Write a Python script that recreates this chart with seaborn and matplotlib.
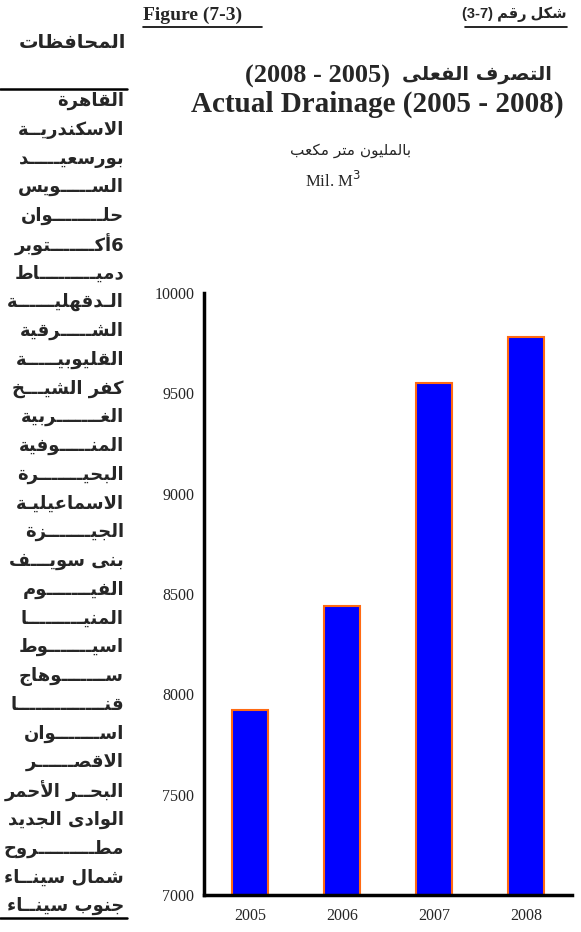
import numpy as np
import pandas as pd
import seaborn as sns
import matplotlib
matplotlib.use("Agg")
import matplotlib.pyplot as plt
from matplotlib.lines import Line2D

# data
years = ["2005", "2006", "2007", "2008"]
drainage = [7920, 8440, 9550, 9780]
y_ticks = [7000, 7500, 8000, 8500, 9000, 9500, 10000]

# governorates column on the left (with kashida as in the source)
governorates = [
    "القاهرة", "الاسكندريــة", "بورسعيـــــد", "الســـــويس", "حلــــــــوان",
    "أكـــــــتوبر|6", "دميـــــــــاط", "الـدقهليــــــة", "الشـــــرقية",
    "القليوبيـــــة", "كفر الشيـــخ", "الغـــــــربية", "المنـــــوفية",
    "البحيـــــــرة", "الاسماعيليـة", "الجيـــــــزة", "بنى سويـــف",
    "الفيـــــــوم", "المنيـــــــــا", "اسيـــــــوط", "ســـــــوهاج",
    "قنــــــــــــــا", "اســـــــوان", "الاقصــــــر", "البحــر الأحمر",
    "الوادى الجديد", "مطـــــــــروح", "شمال سينــاء", "جنوب سينــاء",
]

# --- minimal arabic shaping (matplotlib does no shaping / bidi) ---
DUAL = {
    "ئ": 0xFE89, "ب": 0xFE8F, "ت": 0xFE95, "ث": 0xFE99, "ج": 0xFE9D,
    "ح": 0xFEA1, "خ": 0xFEA5, "س": 0xFEB1, "ش": 0xFEB5, "ص": 0xFEB9,
    "ض": 0xFEBD, "ط": 0xFEC1, "ظ": 0xFEC5, "ع": 0xFEC9, "غ": 0xFECD,
    "ف": 0xFED1, "ق": 0xFED5, "ك": 0xFED9, "ل": 0xFEDD, "م": 0xFEE1,
    "ن": 0xFEE5, "ه": 0xFEE9, "ي": 0xFEF1,
}
RIGHT = {
    "آ": 0xFE81, "أ": 0xFE83, "ؤ": 0xFE85, "إ": 0xFE87, "ا": 0xFE8D,
    "ة": 0xFE93, "د": 0xFEA9, "ذ": 0xFEAB, "ر": 0xFEAD, "ز": 0xFEAF,
    "و": 0xFEED, "ى": 0xFEEF,
}
LAMALEF = {"آ": 0xFEF5, "أ": 0xFEF7, "إ": 0xFEF9, "ا": 0xFEFB}
TATWEEL = "ـ"


def joins_next(c):
    return c in DUAL or c == TATWEEL


def joins_prev(c):
    return c in DUAL or c in RIGHT or c == TATWEEL


def ar(s):
    out = []
    n = len(s)
    i = 0
    while i < n:
        c = s[i]
        prev = s[i - 1] if i > 0 else None
        cp = prev is not None and joins_next(prev) and joins_prev(c)
        if c == "ل" and i + 1 < n and s[i + 1] in LAMALEF:
            out.append(chr(LAMALEF[s[i + 1]] + (1 if cp else 0)))
            i += 2
            continue
        nxt = s[i + 1] if i + 1 < n else None
        cn = nxt is not None and joins_next(c) and joins_prev(nxt)
        if c in DUAL:
            b = DUAL[c]
            out.append(chr(b + (3 if cp and cn else 2 if cn else 1 if cp else 0)))
        elif c in RIGHT:
            out.append(chr(RIGHT[c] + (1 if cp else 0)))
        else:
            out.append(c)
        i += 1
    return "".join(reversed(out))


def gov_label(s):
    if "|" in s:
        word, num = s.split("|")
        return ar(word) + num
    return ar(s)


sns.set_style("white")
plt.rcParams["font.family"] = ["Liberation Serif", "DejaVu Sans"]

W, H = 581, 932
fig = plt.figure(figsize=(W / 100, H / 100), dpi=100)


def fx(px):
    return px / W


def fy(py):
    return 1 - py / H


ax = fig.add_axes([fx(204), fy(895), fx(572) - fx(204), fy(293) - fy(895)])

df = pd.DataFrame({"year": years, "value": drainage})
sns.barplot(data=df, x="year", y="value", ax=ax, color="#0000FF",
            edgecolor="#FF6A13", linewidth=1.5, width=0.4, saturation=1)

ax.set_ylim(7000, 10000)
ax.set_xlim(-0.5, len(years) - 0.5)
ax.set_yticks(y_ticks)
ax.set_yticklabels([str(v) for v in y_ticks], fontsize=11.5,
                   family="Liberation Serif")
ax.set_xticks(np.arange(len(years) + 1) - 0.5)
ax.set_xticklabels([])
ax.set_xticks(np.arange(len(years)), minor=True)
ax.set_xticklabels(years, minor=True, fontsize=11.5, family="Liberation Serif")
ax.tick_params(axis="x", which="minor", length=0, pad=9)
ax.tick_params(axis="both", which="major", direction="out", length=4,
               width=2.5, color="black", pad=3)
ax.set_xlabel("")
ax.set_ylabel("")
for side in ["top", "right"]:
    ax.spines[side].set_visible(False)
for side in ["left", "bottom"]:
    ax.spines[side].set_linewidth(2.5)
    ax.spines[side].set_color("black")

# header texts
fig.text(fx(143), fy(15), "Figure (7-3)", fontsize=14, fontweight="bold",
         family="Liberation Serif", ha="left", va="center")
fig.add_artist(Line2D([fx(143), fx(262)], [fy(27), fy(27)], color="black", lw=1.2))
fig.text(fx(567), fy(14), "(3-7) " + ar("شكل رقم"), fontsize=10.5,
         fontweight="bold", family=["Liberation Sans", "DejaVu Sans"],
         ha="right", va="center")
fig.add_artist(Line2D([fx(465), fx(567)], [fy(27), fy(27)], color="black", lw=1.2))

# title: arabic line (arabic right, years to its left) and english line
t_ar = fig.text(fx(552), fy(75), ar("التصرف الفعلى"), fontsize=14,
                fontweight="bold", family="DejaVu Sans", ha="right",
                va="center")
fig.canvas.draw()
bb = t_ar.get_window_extent(fig.canvas.get_renderer())
fig.text(bb.x0 / W - fx(12), fy(76), "(2008 - 2005)", fontsize=19,
         fontweight="bold", family="Liberation Serif", ha="right", va="center")
fig.text(fx(377), fy(104), "Actual Drainage (2005 - 2008)", fontsize=21,
         fontweight="bold", family="Liberation Serif", ha="center", va="center")

fig.text(fx(351), fy(150), ar("بالمليون متر مكعب"), fontsize=11,
         family="DejaVu Sans", ha="center", va="center")
fig.text(fx(305), fy(181), r"Mil. M$^3$", fontsize=12,
         family="Liberation Serif", ha="left", va="center")

# left governorate column
fig.text(fx(126), fy(42), ar("المحافظات"), fontsize=14, fontweight="bold",
         family="DejaVu Sans", ha="right", va="center")
fig.add_artist(Line2D([0, fx(127)], [fy(89), fy(89)], color="black", lw=1.8))
row_h = (906 - 101) / (len(governorates) - 1)
for i, g in enumerate(governorates):
    fig.text(fx(124), fy(101 + i * row_h), gov_label(g), fontsize=13,
             fontweight="bold", family="DejaVu Sans", ha="right", va="center")
fig.add_artist(Line2D([0, fx(127)], [fy(918), fy(918)], color="black", lw=1.8))
fig.text(fx(124), fy(942), ar("جملة الجمهورية"), fontsize=13,
         fontweight="bold", family="DejaVu Sans", ha="right", va="center")

fig.savefig("out.png", dpi=100)
